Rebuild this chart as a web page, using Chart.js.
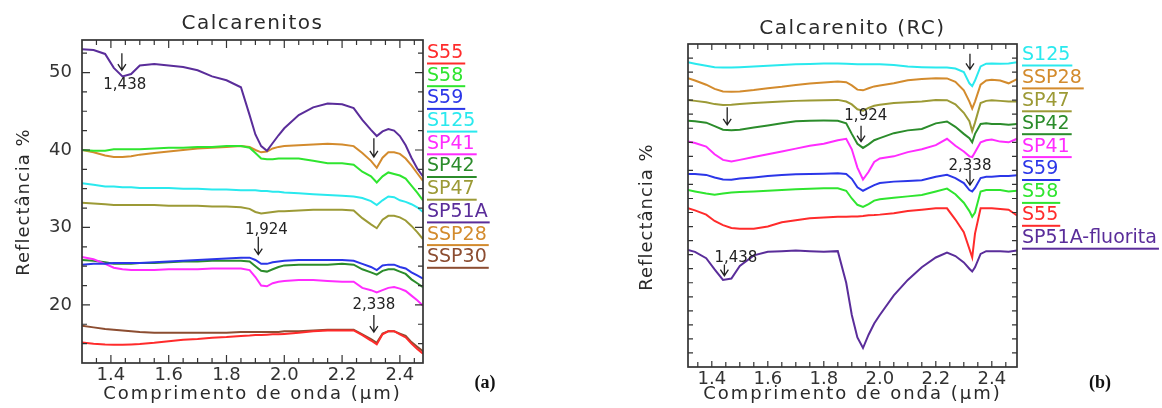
<!DOCTYPE html>
<html><head><meta charset="utf-8">
<script src="https://cdn.jsdelivr.net/npm/chart.js@4.4.1/dist/chart.umd.min.js"></script>
<style>
html,body{margin:0;padding:0;background:#fff;}
body{width:1162px;height:408px;position:relative;overflow:hidden;}
.panel{position:absolute;top:0;height:408px;width:581px;}
#pa{left:0}#pb{left:581px}
</style></head><body>
<div class="panel" id="pa"><canvas id="ca"></canvas></div>
<div class="panel" id="pb"><canvas id="cb"></canvas></div>
<script>
// ---------- Panel (a): Calcarenitos ----------
const wavelengthA = [1.30, 1.34, 1.38, 1.41, 1.44, 1.47, 1.50, 1.55, 1.60, 1.65, 1.70, 1.75, 1.80, 1.85, 1.88, 1.90, 1.92, 1.94, 1.96, 1.98, 2.00, 2.05, 2.10, 2.15, 2.20, 2.24, 2.27, 2.30, 2.32, 2.34, 2.36, 2.38, 2.40, 2.42, 2.44, 2.46, 2.48];
const s55A   = [15.15, 15.0, 14.9, 14.85, 14.85, 14.9, 14.95, 15.1, 15.3, 15.5, 15.6, 15.75, 15.85, 16.0, 16.05, 16.1, 16.1, 16.15, 16.2, 16.2, 16.25, 16.4, 16.6, 16.7, 16.7, 16.7, 16.1, 15.4, 14.9, 16.2, 16.6, 16.6, 16.2, 15.8, 15.0, 14.3, 13.7];
const s58A   = [40.0, 39.9, 39.9, 40.1, 40.1, 40.1, 40.1, 40.2, 40.3, 40.3, 40.4, 40.4, 40.5, 40.5, 40.3, 39.6, 38.9, 38.8, 38.8, 38.9, 38.9, 38.9, 38.6, 38.3, 38.3, 38.1, 37.2, 36.6, 35.8, 36.6, 37.1, 36.9, 36.7, 36.3, 35.4, 34.5, 33.5];
const s59A   = [25.2, 25.3, 25.3, 25.4, 25.4, 25.4, 25.4, 25.5, 25.6, 25.7, 25.8, 25.9, 26.0, 26.1, 26.1, 25.8, 25.3, 25.3, 25.5, 25.6, 25.7, 25.8, 25.8, 25.8, 25.8, 25.7, 25.3, 24.9, 24.5, 25.1, 25.2, 25.2, 24.9, 24.7, 24.2, 23.8, 23.4];
const s125A  = [35.7, 35.5, 35.3, 35.3, 35.2, 35.2, 35.1, 35.1, 35.1, 35.0, 35.0, 34.9, 34.9, 34.8, 34.8, 34.8, 34.7, 34.7, 34.6, 34.6, 34.5, 34.4, 34.3, 34.2, 34.1, 34.0, 33.8, 33.4, 32.9, 33.5, 34.0, 33.9, 33.5, 33.3, 33.0, 32.6, 32.0];
const sp41A  = [26.2, 25.9, 25.3, 24.8, 24.6, 24.5, 24.5, 24.5, 24.6, 24.6, 24.6, 24.7, 24.7, 24.7, 24.5, 23.6, 22.5, 22.4, 22.8, 23.0, 23.1, 23.2, 23.2, 23.1, 23.0, 23.0, 22.2, 21.9, 21.6, 21.9, 22.2, 22.3, 22.1, 21.8, 21.2, 20.6, 19.9];
const sp42A  = [25.8, 25.7, 25.5, 25.3, 25.3, 25.3, 25.4, 25.4, 25.5, 25.6, 25.6, 25.7, 25.7, 25.7, 25.6, 25.0, 24.4, 24.3, 24.6, 24.9, 25.1, 25.2, 25.2, 25.2, 25.3, 25.2, 24.6, 24.2, 23.9, 24.4, 24.6, 24.6, 24.3, 24.0, 23.3, 22.8, 22.3];
const sp47A  = [33.2, 33.1, 33.0, 32.9, 32.9, 32.9, 32.9, 32.9, 32.8, 32.8, 32.8, 32.7, 32.7, 32.6, 32.4, 32.0, 31.8, 31.9, 32.0, 32.1, 32.1, 32.2, 32.3, 32.3, 32.3, 32.2, 31.2, 30.4, 29.9, 31.0, 31.5, 31.5, 31.3, 30.9, 30.2, 29.4, 28.5];
const sp51aA = [53.0, 52.9, 52.4, 50.6, 49.5, 49.8, 50.9, 51.1, 50.9, 50.7, 50.3, 49.5, 49.0, 48.1, 44.5, 42.0, 40.5, 39.9, 40.9, 41.9, 42.8, 44.5, 45.5, 46.0, 45.9, 45.4, 43.9, 42.6, 41.8, 42.4, 42.7, 42.5, 41.8, 40.6, 39.0, 37.6, 36.6];
const ssp28A = [40.0, 39.7, 39.3, 39.1, 39.1, 39.2, 39.4, 39.6, 39.8, 40.0, 40.2, 40.3, 40.4, 40.5, 40.4, 40.0, 39.7, 39.8, 40.2, 40.4, 40.5, 40.6, 40.7, 40.8, 40.7, 40.5, 39.6, 38.6, 37.7, 39.0, 39.7, 39.7, 39.5, 38.9, 38.0, 37.0, 36.0];
const ssp30A = [17.3, 17.1, 16.9, 16.8, 16.7, 16.6, 16.5, 16.4, 16.4, 16.4, 16.4, 16.4, 16.4, 16.5, 16.5, 16.5, 16.5, 16.5, 16.5, 16.5, 16.6, 16.6, 16.7, 16.8, 16.8, 16.8, 16.2, 15.6, 15.1, 16.3, 16.6, 16.6, 16.3, 16.0, 15.2, 14.6, 14.0];
const namesA = ['S55', 'S58', 'S59', 'S125', 'SP41', 'SP42', 'SP47', 'SP51A', 'SSP28', 'SSP30'];
const valuesA = [s55A, s58A, s59A, s125A, sp41A, sp42A, sp47A, sp51aA, ssp28A, ssp30A];

// ---------- Panel (b): Calcarenito (RC) (offset curves, arbitrary units) ----------
const wavelengthB = [1.315, 1.34, 1.38, 1.41, 1.44, 1.47, 1.50, 1.55, 1.60, 1.65, 1.70, 1.75, 1.80, 1.85, 1.88, 1.90, 1.92, 1.94, 1.96, 1.98, 2.00, 2.05, 2.10, 2.15, 2.20, 2.24, 2.27, 2.30, 2.32, 2.33, 2.34, 2.36, 2.38, 2.40, 2.43, 2.46, 2.49];
const s125B  = [21.7, 21.6, 21.45, 21.35, 21.33, 21.33, 21.35, 21.4, 21.45, 21.5, 21.55, 21.58, 21.62, 21.62, 21.6, 21.58, 21.56, 21.55, 21.55, 21.55, 21.55, 21.5, 21.4, 21.35, 21.32, 21.32, 21.25, 21.0, 20.2, 20.0, 20.4, 21.4, 21.6, 21.62, 21.6, 21.62, 21.7];
const ssp28B = [20.56, 20.4, 20.1, 19.8, 19.62, 19.6, 19.62, 19.72, 19.85, 19.95, 20.08, 20.18, 20.25, 20.33, 20.28, 20.05, 19.75, 19.7, 19.85, 19.98, 20.05, 20.2, 20.42, 20.5, 20.56, 20.55, 20.3, 19.7, 18.9, 18.4, 18.9, 20.1, 20.4, 20.45, 20.4, 20.2, 20.5];
const sp47B  = [19.02, 18.95, 18.85, 18.72, 18.66, 18.68, 18.72, 18.8, 18.85, 18.9, 18.95, 18.98, 19.0, 19.02, 18.9, 18.7, 18.35, 18.25, 18.45, 18.6, 18.68, 18.8, 18.85, 18.9, 19.02, 19.0, 18.7, 18.1, 17.5, 16.8, 17.4, 18.8, 18.95, 19.0, 18.95, 18.9, 18.9];
const sp42B  = [17.54, 17.5, 17.4, 17.15, 16.9, 16.85, 16.9, 17.05, 17.2, 17.35, 17.5, 17.54, 17.55, 17.54, 17.35, 16.6, 15.9, 15.6, 15.85, 16.15, 16.3, 16.65, 16.85, 16.95, 17.35, 17.48, 17.1, 16.6, 16.3, 16.0, 16.6, 17.3, 17.35, 17.3, 17.3, 17.25, 17.3];
const sp41B  = [16.05, 15.95, 15.7, 15.15, 14.75, 14.63, 14.75, 14.95, 15.15, 15.35, 15.55, 15.75, 15.9, 16.15, 16.25, 15.5, 14.2, 13.35, 13.9, 14.6, 14.85, 15.0, 15.3, 15.5, 15.8, 16.25, 15.75, 15.35, 15.0, 14.95, 15.3, 16.0, 16.15, 16.2, 16.05, 16.0, 16.25];
const s59B   = [13.75, 13.74, 13.68, 13.5, 13.35, 13.33, 13.42, 13.5, 13.6, 13.68, 13.72, 13.74, 13.76, 13.8, 13.75, 13.4, 12.8, 12.55, 12.75, 12.95, 13.1, 13.2, 13.25, 13.3, 13.55, 13.68, 13.45, 13.1, 12.6, 12.5, 12.75, 13.45, 13.55, 13.55, 13.6, 13.6, 13.65];
const s58B   = [12.6, 12.5, 12.35, 12.27, 12.35, 12.42, 12.46, 12.5, 12.55, 12.6, 12.65, 12.7, 12.73, 12.73, 12.55, 12.0, 11.55, 11.4, 11.6, 11.85, 11.95, 12.05, 12.15, 12.25, 12.5, 12.7, 12.3, 11.7, 11.1, 10.7, 11.0, 12.5, 12.6, 12.6, 12.6, 12.5, 12.55];
const s55B   = [11.3, 11.15, 10.85, 10.4, 10.1, 9.9, 9.85, 9.85, 10.0, 10.3, 10.45, 10.6, 10.65, 10.7, 10.7, 10.72, 10.72, 10.75, 10.8, 10.82, 10.85, 10.95, 11.1, 11.2, 11.3, 11.3, 10.5, 9.6, 8.4, 7.8, 9.5, 11.3, 11.3, 11.3, 11.25, 11.2, 10.8];
const sp51afB = [8.33, 8.2, 7.75, 6.95, 6.2, 6.3, 7.2, 7.95, 8.2, 8.25, 8.3, 8.25, 8.2, 8.25, 6.0, 3.7, 2.1, 1.35, 2.3, 3.1, 3.7, 5.1, 6.2, 7.1, 7.8, 8.15, 7.9, 7.45, 7.0, 6.8, 7.1, 8.05, 8.25, 8.25, 8.25, 8.2, 8.3];
const namesB = ['S125', 'SSP28', 'SP47', 'SP42', 'SP41', 'S59', 'S58', 'S55', 'SP51A-fluorita'];
const valuesB = [s125B, ssp28B, sp47B, sp42B, sp41B, s59B, s58B, s55B, sp51afB];

// ---------- tick labels & annotations ----------
const xTickLabels = ['1.4', '1.6', '1.8', '2.0', '2.2', '2.4'];
const yTickLabelsA = ['20', '30', '40', '50'];
const arrowsA = [[1.438, 52.5, 50.3], [2.31, 41.5, 39.1], [1.91, 28.8, 26.5], [2.31, 18.7, 16.5]];
const notesA = [['1,438', 1.448, 48.4], ['1,924', 1.938, 29.6], ['2,338', 2.31, 20.0]];
const arrowsB = [[2.322, 22.3, 21.2], [1.455, 18.5, 17.24], [1.933, 17.17, 16.05], [2.322, 14.03, 12.96], [1.445, 7.3, 6.5]];
const notesB = [['1,924', 1.95, 17.83], ['2,338', 2.322, 14.27], ['1,438', 1.486, 7.74]];

// ---------- styles ----------
const seriesColors = {
  'S55': '#ff2b2b', 'S58': '#2fe52f', 'S59': '#2b36e8', 'S125': '#2ae9ee',
  'SP41': '#ff2cff', 'SP42': '#2b8c2b', 'SP47': '#9c9a36', 'SP51A': '#5a2d9a',
  'SP51A-fluorita': '#5a2d9a', 'SSP28': '#d38b2d', 'SSP30': '#8c4d31'
};
const FONT = '"DejaVu Sans", "Liberation Sans", sans-serif';
Chart.defaults.font.family = FONT;
Chart.defaults.color = '#333';

const isMult = (v, s) => Math.abs(v / s - Math.round(v / s)) < 1e-6;

function makeDecor(spec) {
  return {
    id: 'decor',
    afterDatasetsDraw(chart) {
      const {ctx, chartArea: a, scales: {x, y}} = chart;
      ctx.save();
      ctx.strokeStyle = '#333';
      ctx.lineWidth = 1.2;
      ctx.beginPath();
      x.ticks.forEach(t => {
        const px = x.getPixelForValue(t.value);
        if (px < a.left + 2 || px > a.right - 2) return;
        const len = isMult(t.value, 0.2) ? spec.majorLen : spec.minorLen;
        ctx.moveTo(px, a.bottom); ctx.lineTo(px, a.bottom - len);
        ctx.moveTo(px, a.top); ctx.lineTo(px, a.top + len);
      });
      y.ticks.forEach(t => {
        const py = y.getPixelForValue(t.value);
        if (py < a.top + 2 || py > a.bottom - 2) return;
        const len = (spec.yMajor && isMult(t.value, spec.yMajor)) ? spec.majorLen : spec.minorLen;
        ctx.moveTo(a.left, py); ctx.lineTo(a.left + len, py);
        ctx.moveTo(a.right, py); ctx.lineTo(a.right - len, py);
      });
      ctx.stroke();
      ctx.lineWidth = 1.7;
      ctx.strokeRect(a.left, a.top, a.right - a.left, a.bottom - a.top);
      // arrows
      ctx.strokeStyle = '#222';
      ctx.lineWidth = 1.3;
      spec.arrows.forEach(([wx, from, to]) => {
        const px = x.getPixelForValue(wx), p1 = y.getPixelForValue(from), p2 = y.getPixelForValue(to);
        ctx.beginPath();
        ctx.moveTo(px, p1); ctx.lineTo(px, p2);
        ctx.moveTo(px - 4, p2 - 6); ctx.lineTo(px, p2); ctx.lineTo(px + 4, p2 - 6);
        ctx.stroke();
      });
      ctx.fillStyle = '#222';
      ctx.font = '15px ' + FONT;
      ctx.textAlign = 'center';
      ctx.textBaseline = 'middle';
      spec.notes.forEach(([txt, wx, wy]) => {
        ctx.fillText(txt, x.getPixelForValue(wx), y.getPixelForValue(wy));
      });
      ctx.restore();
    },
    afterDraw(chart) {
      const {ctx, chartArea: a} = chart;
      const cx = (a.left + a.right) / 2;
      ctx.save();
      ctx.fillStyle = '#2a2a2a';
      ctx.textAlign = 'center';
      ctx.textBaseline = 'middle';
      // chart title
      ctx.font = '20px ' + FONT;
      ctx.letterSpacing = '1.5px';
      ctx.fillText(spec.title, cx, spec.titleY);
      // x axis title
      ctx.font = '18px ' + FONT;
      ctx.letterSpacing = '2px';
      ctx.fillText('Comprimento de onda (\u00b5m)', cx, 394);
      // y axis title
      ctx.letterSpacing = '1px';
      ctx.save();
      ctx.translate(spec.yTitleX, spec.yTitleY);
      ctx.rotate(-Math.PI / 2);
      ctx.fillText('Reflect\u00e2ncia %', 0, 0);
      ctx.restore();
      // legend
      ctx.letterSpacing = '0px';
      ctx.font = '19px ' + FONT;
      ctx.textAlign = 'left';
      chart.data.datasets.forEach((ds, i) => {
        const ly = spec.legY + i * spec.legDy;
        ctx.fillStyle = ds.borderColor;
        ctx.fillText(ds.label, spec.legX, ly);
        const w = ctx.measureText(ds.label).width;
        ctx.fillRect(spec.legX, ly + 9.5, w + 2, 2);
      });
      // panel label
      ctx.fillStyle = '#111';
      ctx.textAlign = 'center';
      ctx.font = 'bold 18px "Liberation Serif", serif';
      ctx.fillText(spec.panel, spec.panelX, 383);
      ctx.restore();
    }
  };
}

function buildDatasets(names, values, wl) {
  return names.map((n, i) => ({
    label: n,
    data: wl.map((w, j) => ({x: w, y: values[i][j]})),
    borderColor: seriesColors[n],
    backgroundColor: seriesColors[n],
    borderWidth: 2,
    pointRadius: 0,
    tension: 0,
    fill: false
  }));
}

function xScale(min, max, h) {
  return {
    type: 'linear', min: min, max: max,
    afterFit: s => { s.height = h; },
    grid: {display: false, drawTicks: false},
    border: {display: false},
    ticks: {
      stepSize: 0.05, autoSkip: false, includeBounds: false, maxRotation: 0, padding: 2,
      font: {size: 18}, color: '#333',
      callback: v => {
        const s = Number(v).toFixed(1);
        return (isMult(v, 0.2) && xTickLabels.includes(s)) ? s : '';
      }
    }
  };
}

// Chart (a)
new Chart(document.getElementById('ca'), {
  type: 'line',
  data: {datasets: buildDatasets(namesA, valuesA, wavelengthA)},
  options: {
    responsive: true, maintainAspectRatio: false, animation: false,
    layout: {padding: {left: 0, top: 40, right: 158, bottom: 0}},
    plugins: {legend: {display: false}, tooltip: {enabled: false}},
    scales: {
      x: xScale(1.30, 2.48, 45),
      y: {
        type: 'linear', min: 12.5, max: 54.2,
        afterFit: s => { s.width = 82; },
        grid: {display: false, drawTicks: false},
        border: {display: false},
        ticks: {
          stepSize: 2.5, autoSkip: false, includeBounds: false, padding: 10,
          font: {size: 18}, color: '#333',
          callback: v => {
            const s = String(Math.round(v));
            return (isMult(v, 10) && yTickLabelsA.includes(s)) ? s : '';
          }
        }
      }
    }
  },
  plugins: [makeDecor({
    title: 'Calcarenitos', titleY: 24, yTitleX: 24, yTitleY: 202,
    legX: 427, legY: 53, legDy: 22.7, panel: '(a)', panelX: 485,
    majorLen: 8, minorLen: 5, yMajor: 10,
    arrows: arrowsA, notes: notesA
  })]
});

// Chart (b)
new Chart(document.getElementById('cb'), {
  type: 'line',
  data: {datasets: buildDatasets(namesB, valuesB, wavelengthB)},
  options: {
    responsive: true, maintainAspectRatio: false, animation: false,
    layout: {padding: {left: 0, top: 44, right: 145, bottom: 0}},
    plugins: {legend: {display: false}, tooltip: {enabled: false}},
    scales: {
      x: xScale(1.315, 2.49, 41),
      y: {
        type: 'linear', min: 0, max: 23,
        afterFit: s => { s.width = 107; },
        grid: {display: false, drawTicks: false},
        border: {display: false},
        ticks: {stepSize: 1, autoSkip: false, includeBounds: false, font: {size: 18}, callback: () => ''}
      }
    }
  },
  plugins: [makeDecor({
    title: 'Calcarenito (RC)', titleY: 29, yTitleX: 66, yTitleY: 217,
    legX: 441, legY: 55, legDy: 22.9, panel: '(b)', panelX: 519,
    majorLen: 6, minorLen: 5, yMajor: null,
    arrows: arrowsB, notes: notesB
  })]
});
</script>
</body></html>
